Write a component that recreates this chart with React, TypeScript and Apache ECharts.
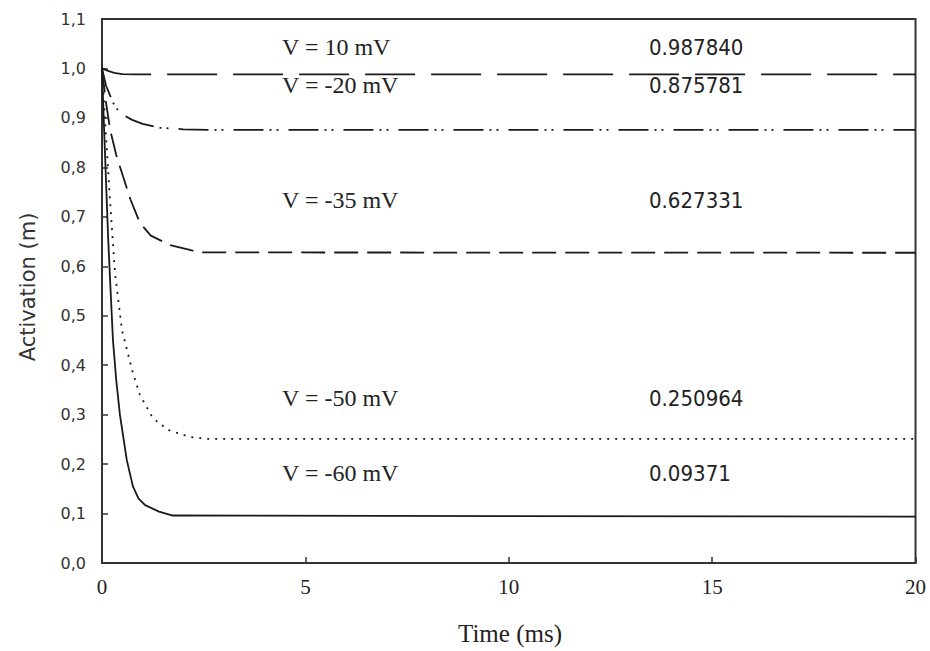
import React, { useEffect, useRef } from "react";
import * as echarts from "echarts";

// Time (ms) / activation values, one pair of arrays per curve
const t10 = [0, 0.15, 0.3, 0.5, 0.8, 20];
const m10 = [1.0, 0.995, 0.991, 0.9885, 0.98784, 0.98784];

const t20 = [0, 0.1, 0.2, 0.32, 0.52, 0.74, 1.0, 1.43, 2.0, 2.6, 20];
const m20 = [1.0, 0.965, 0.945, 0.922, 0.906, 0.896, 0.888, 0.88, 0.877, 0.8758, 0.875781];

const t35 = [0, 0.1, 0.2, 0.35, 0.52, 0.7, 0.93, 1.2, 1.67, 2.16, 2.4, 20];
const m35 = [1.0, 0.93, 0.876, 0.825, 0.781, 0.735, 0.688, 0.662, 0.643, 0.633, 0.628, 0.627331];

const t50 = [0, 0.1, 0.2, 0.32, 0.49, 0.74, 0.93, 1.25, 1.62, 2.16, 2.6, 20];
const m50 = [1.0, 0.86, 0.73, 0.586, 0.471, 0.39, 0.34, 0.293, 0.269, 0.255, 0.251, 0.250964];

const t60 = [0, 0.05, 0.1, 0.15, 0.2, 0.27, 0.35, 0.44, 0.61, 0.76, 0.9, 1.06, 1.4, 1.74, 20];
const m60 = [1.0, 0.88, 0.77, 0.66, 0.57, 0.45, 0.37, 0.3, 0.208, 0.155, 0.13, 0.117, 0.104, 0.096, 0.09371];

const voltageLabels = ["V = 10 mV", "V = -20 mV", "V = -35 mV", "V = -50 mV", "V = -60 mV"];
const steadyLabels = ["0.987840", "0.875781", "0.627331", "0.250964", "0.09371"];
const labelRows = [47, 85, 200, 398, 473];

const xTitle = "Time (ms)";
const yTitle = "Activation (m)";

const pairs = (t: number[], m: number[]) => t.map((v, i) => [v, m[i]]);

export default function App() {
  const ref = useRef<HTMLDivElement>(null);
  useEffect(() => {
    document.body.style.margin = "0";
    const chart = echarts.init(ref.current!, undefined, { renderer: "svg" });
    const lineColor = "#1a1a1a";
    const mk = (name: string, t: number[], m: number[], dash: any, width = 1.8) => ({
      name,
      type: "line",
      data: pairs(t, m),
      showSymbol: false,
      symbol: "none",
      lineStyle: { color: lineColor, width, type: dash },
      silent: true,
    });
    const serif = "'Liberation Serif', 'Times New Roman', serif";
    const graphics: any[] = [];
    voltageLabels.forEach((s, i) => {
      graphics.push({
        type: "text",
        x: 282,
        y: labelRows[i],
        style: { text: s, fontSize: 24, fontFamily: serif, fill: "#222", align: "left", verticalAlign: "middle" },
      });
      graphics.push({
        type: "text",
        x: 649,
        y: labelRows[i],
        style: {
          text: steadyLabels[i],
          fontSize: 22,
          fontFamily: "'DejaVu Sans Condensed', 'Liberation Sans Narrow', sans-serif",
          fill: "#222",
          align: "left",
          verticalAlign: "middle",
        },
      });
    });
    graphics.push({
      type: "text",
      x: 28,
      y: 287,
      rotation: Math.PI / 2,
      style: { text: yTitle, fontSize: 21, fontFamily: "'DejaVu Sans', sans-serif", fill: "#333", align: "center", verticalAlign: "middle" },
    });
    graphics.push({
      type: "text",
      x: 510,
      y: 633,
      style: { text: xTitle, fontSize: 25, fontFamily: serif, fill: "#222", align: "center", verticalAlign: "middle" },
    });

    chart.setOption({
      animation: false,
      backgroundColor: "#fff",
      grid: { left: 102, right: 14.5, top: 19, bottom: 88, show: true, borderColor: "#333", borderWidth: 2, backgroundColor: "transparent" },
      xAxis: {
        type: "value",
        min: 0,
        max: 20,
        interval: 5,
        axisLine: { lineStyle: { color: "#333", width: 2 } },
        axisTick: { inside: true, length: 6, lineStyle: { color: "#333", width: 1.5 } },
        axisLabel: { fontFamily: serif, fontSize: 21, color: "#222", margin: 13 },
        splitLine: { show: false },
      },
      yAxis: {
        type: "value",
        min: 0,
        max: 1.1,
        interval: 0.1,
        axisLine: { show: true, lineStyle: { color: "#333", width: 2 } },
        axisTick: { show: true, inside: true, length: 6, lineStyle: { color: "#333", width: 1.5 } },
        axisLabel: {
          fontFamily: "'DejaVu Sans', sans-serif",
          fontSize: 16,
          color: "#333",
          margin: 16,
          formatter: (v: number) => v.toFixed(1).replace(".", ","),
        },
        splitLine: { show: false },
      },
      series: [
        mk("V = 10 mV", t10, m10, [50, 16]),
        mk("V = -20 mV", t20, m20, [30, 6, 2, 5, 2, 10]),
        mk("V = -35 mV", t35, m35, [24, 9]),
        mk("V = -50 mV", t50, m50, [2, 6]),
        mk("V = -60 mV", t60, m60, "solid"),
      ],
      graphic: graphics,
    });
    return () => chart.dispose();
  }, []);
  return <div ref={ref} style={{ width: 930, height: 651 }} />;
}
